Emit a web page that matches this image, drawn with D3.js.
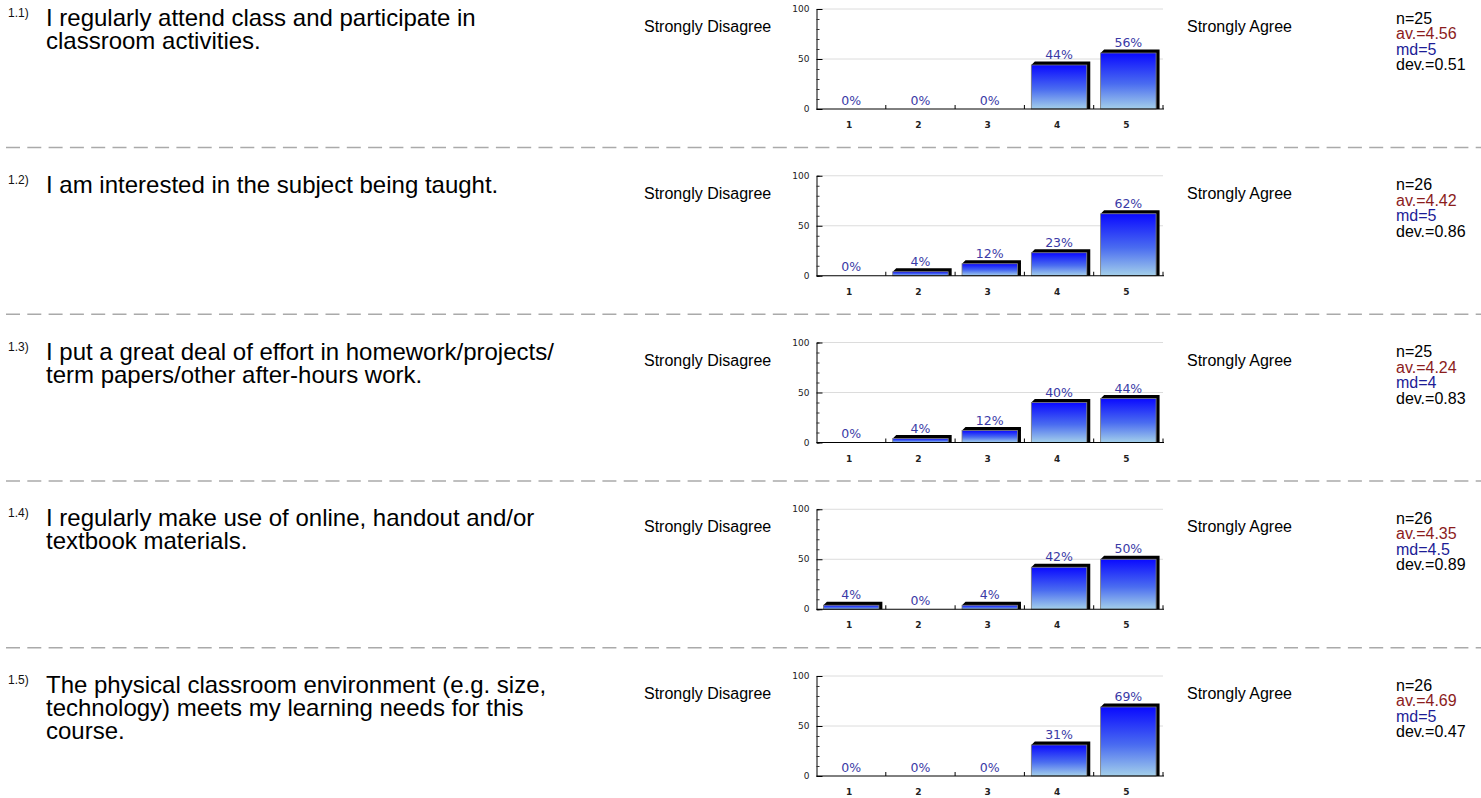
<!DOCTYPE html>
<html>
<head>
<meta charset="utf-8">
<script src="https://cdn.jsdelivr.net/npm/d3@7"></script>
<style>
  html, body { margin: 0; padding: 0; background: #fff; }
  svg { display: block; }
</style>
</head>
<body>
<svg id="chart"></svg>
<script>
'use strict';

// data
const questionIds = ["1.1)", "1.2)", "1.3)", "1.4)", "1.5)"];
const questionLines = [
  ["I regularly attend class and participate in", "classroom activities."],
  ["I am interested in the subject being taught."],
  ["I put a great deal of effort in homework/projects/", "term papers/other after-hours work."],
  ["I regularly make use of online, handout and/or", "textbook materials."],
  ["The physical classroom environment (e.g. size,", "technology) meets my learning needs for this", "course."]
];
const scaleLabels = ["1", "2", "3", "4", "5"];
const percents = [
  [0, 0, 0, 44, 56],
  [0, 4, 12, 23, 62],
  [0, 4, 12, 40, 44],
  [4, 0, 4, 42, 50],
  [0, 0, 0, 31, 69]
];
const nValues = [25, 26, 25, 26, 26];
const averages = ["4.56", "4.42", "4.24", "4.35", "4.69"];
const medians = ["5", "5", "4", "4.5", "5"];
const deviations = ["0.51", "0.86", "0.83", "0.89", "0.47"];
const leftPole = "Strongly Disagree";
const rightPole = "Strongly Agree";
const yTicks = [0, 50, 100];

// layout
const W = 1481, H = 798;
const rowStep = 166.75;
const chartLeft = 816.5, chartRight = 1163, baseY = 109;
const sans = "'Liberation Sans', Arial, sans-serif";
const small = "'DejaVu Sans', Verdana, sans-serif";

const svg = d3.select("#chart").attr("width", W).attr("height", H);

const defs = svg.append("defs");
const grad = defs.append("linearGradient")
  .attr("id", "barFill")
  .attr("x1", 0).attr("y1", 0).attr("x2", 0).attr("y2", 1);
grad.append("stop").attr("offset", "0%").attr("stop-color", "#0a0aff");
grad.append("stop").attr("offset", "55%").attr("stop-color", "#4a6cf0");
grad.append("stop").attr("offset", "100%").attr("stop-color", "#a4d0ea");

const x = d3.scaleBand()
  .domain(scaleLabels)
  .range([chartLeft, chartRight])
  .paddingInner(0.2)
  .paddingOuter(0.1);
const xStep = d3.scaleBand().domain(scaleLabels).range([chartLeft, chartRight]);
const y = d3.scaleLinear().domain([0, 100]).range([baseY, baseY - 100]);

// separators
svg.selectAll("line.sep")
  .data(d3.range(questionIds.length - 1))
  .enter().append("line")
  .attr("class", "sep")
  .attr("x1", 6).attr("x2", W)
  .attr("y1", i => 147.5 + i * rowStep)
  .attr("y2", i => 147.5 + i * rowStep)
  .attr("stroke", "#aaa")
  .attr("stroke-width", 1.5)
  .attr("stroke-dasharray", "14 7.3");

const rows = svg.selectAll("g.row")
  .data(questionIds)
  .enter().append("g")
  .attr("class", "row")
  .attr("transform", (d, i) => `translate(0, ${i * rowStep})`);

rows.each(function(id, i) {
  const g = d3.select(this);

  g.append("text")
    .attr("x", 8).attr("y", 17)
    .style("font-family", sans).style("font-size", "12px")
    .attr("fill", "#111")
    .text(id);

  g.append("text")
    .attr("x", 46).attr("y", 26)
    .style("font-family", sans).style("font-size", "24px")
    .attr("fill", "#000")
    .selectAll("tspan")
    .data(questionLines[i])
    .enter().append("tspan")
    .attr("x", 46)
    .attr("dy", (d, k) => k === 0 ? 0 : 23)
    .text(d => d);

  g.append("text")
    .attr("x", 644).attr("y", 32)
    .style("font-family", sans).style("font-size", "16px")
    .attr("fill", "#000")
    .text(leftPole);

  g.append("text")
    .attr("x", 1187).attr("y", 32)
    .style("font-family", sans).style("font-size", "16px")
    .attr("fill", "#000")
    .text(rightPole);

  const stats = [
    { t: `n=${nValues[i]}`, c: "#000" },
    { t: `av.=${averages[i]}`, c: "#8b1c1c" },
    { t: `md=${medians[i]}`, c: "#1c1c96" },
    { t: `dev.=${deviations[i]}`, c: "#000" }
  ];
  g.selectAll("text.stat")
    .data(stats)
    .enter().append("text")
    .attr("class", "stat")
    .attr("x", 1396)
    .attr("y", (d, k) => 23.5 + k * 15.5)
    .style("font-family", sans).style("font-size", "16px")
    .attr("fill", d => d.c)
    .text(d => d.t);

  // gridlines
  g.selectAll("line.grid")
    .data(yTicks.filter(v => v > 0))
    .enter().append("line")
    .attr("class", "grid")
    .attr("x1", chartLeft).attr("x2", chartRight)
    .attr("y1", v => y(v)).attr("y2", v => y(v))
    .attr("stroke", "#dcdcdc").attr("stroke-width", 1);

  // y axis with inward ticks
  const yAxis = g.append("g").attr("transform", `translate(${chartLeft}, 0)`);
  yAxis.call(d3.axisRight(y).tickValues(d3.range(0, 101, 10)).tickSize(3).tickFormat(""));
  yAxis.select(".domain").attr("stroke", "#000");
  yAxis.selectAll(".tick line").attr("stroke", "#333");
  yAxis.selectAll(".tick")
    .filter(v => v % 50 === 0)
    .select("line").attr("x2", 6).attr("stroke", "#000");

  g.selectAll("text.ylab")
    .data(yTicks)
    .enter().append("text")
    .attr("class", "ylab")
    .attr("x", chartLeft - 7)
    .attr("y", v => y(v) + 3)
    .attr("text-anchor", "end")
    .style("font-family", small).style("font-size", "9px")
    .attr("fill", "#222")
    .text(v => v);

  // bars
  const vals = percents[i];
  const bw = x.bandwidth();
  const bars = g.selectAll("g.bar")
    .data(vals.map((v, k) => ({ v, k: scaleLabels[k] })))
    .enter().append("g").attr("class", "bar");

  bars.filter(d => d.v > 0).append("path")
    .attr("d", d => {
      const x0 = x(d.k), x1 = x0 + bw, t = y(d.v), o = 3.5;
      return `M${x0},${t}L${x0 + o},${t - o}L${x1 + o},${t - o}L${x1 + o},${baseY}L${x1},${baseY}L${x1},${t}Z`;
    })
    .attr("fill", "#000");

  bars.filter(d => d.v > 0).append("rect")
    .attr("x", d => x(d.k))
    .attr("y", d => y(d.v))
    .attr("width", bw)
    .attr("height", d => baseY - y(d.v))
    .attr("fill", "url(#barFill)")
    .attr("stroke", "#777")
    .attr("stroke-width", 0.8);

  bars.append("text")
    .attr("x", d => x(d.k) + bw / 2)
    .attr("y", d => y(d.v) - (d.v > 0 ? 6 : 4.5))
    .attr("text-anchor", "middle")
    .style("font-family", small).style("font-size", "12.5px")
    .attr("fill", "#3a3aa6")
    .text(d => `${d.v}%`);

  // x axis baseline with upward ticks at band edges
  g.append("line")
    .attr("x1", chartLeft).attr("x2", chartRight + 1)
    .attr("y1", baseY).attr("y2", baseY)
    .attr("stroke", "#000").attr("stroke-width", 1);
  g.selectAll("line.xtick")
    .data(scaleLabels)
    .enter().append("line")
    .attr("class", "xtick")
    .attr("x1", k => xStep(k) + xStep.bandwidth())
    .attr("x2", k => xStep(k) + xStep.bandwidth())
    .attr("y1", baseY).attr("y2", baseY - 4)
    .attr("stroke", "#000");

  g.selectAll("text.xlab")
    .data(scaleLabels)
    .enter().append("text")
    .attr("class", "xlab")
    .attr("x", k => x(k) + bw / 2 - 2)
    .attr("y", baseY + 19)
    .attr("text-anchor", "middle")
    .style("font-family", small).style("font-size", "9px")
    .style("font-weight", "bold")
    .attr("fill", "#222")
    .text(k => k);
});
</script>
</body>
</html>
